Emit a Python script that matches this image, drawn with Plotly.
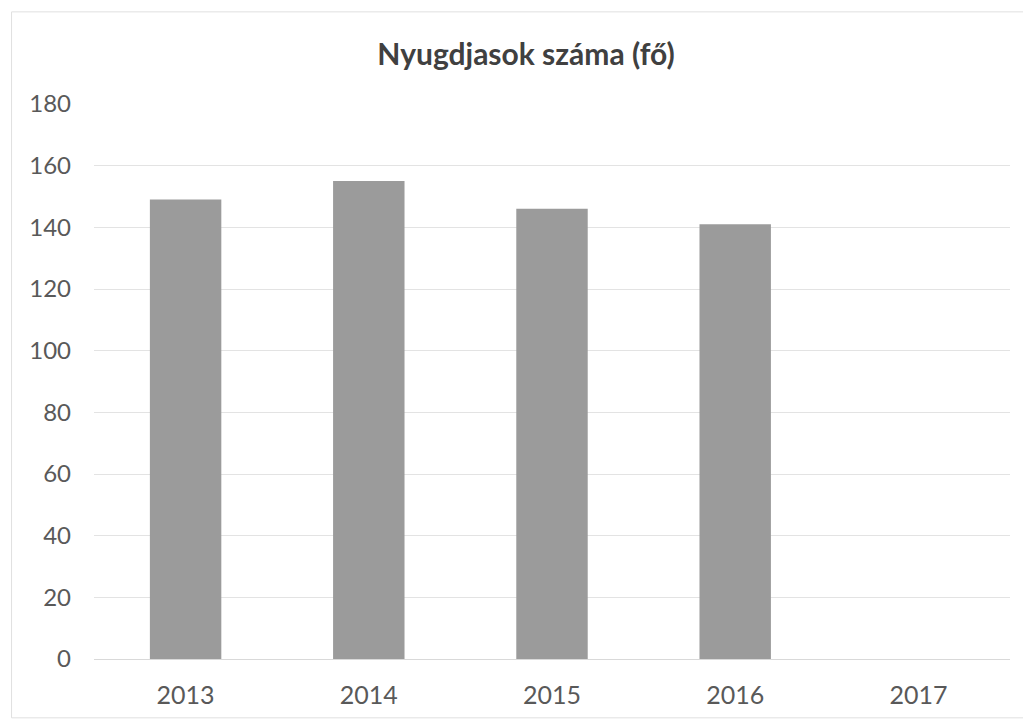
import plotly.graph_objects as go

years = ["2013", "2014", "2015", "2016", "2017"]
values = [149, 155, 146, 141, 0]
y_ticks = [0, 20, 40, 60, 80, 100, 120, 140, 160, 180]
title_text = "Nyugdjasok száma (fő)"

fig = go.Figure()
fig.add_trace(go.Bar(x=years, y=values, marker=dict(color="#9b9b9b", line=dict(width=0)),
                     width=0.39))

fig.update_layout(
    width=1031, height=721,
    paper_bgcolor="white", plot_bgcolor="white",
    margin=dict(l=86, r=29, t=96, b=70, autoexpand=False),
    showlegend=False,
    title=dict(text="<b>" + title_text + "</b>", x=518 / 1031, xref="container", xanchor="center",
               y=1 - 46 / 721, yref="container", yanchor="middle",
               font=dict(family="Lato, Open Sans, sans-serif", size=30, color="#404040")),
    font=dict(family="Lato, Open Sans, sans-serif", color="#595959", size=24),
)
fig.update_xaxes(showgrid=False, showline=True, linecolor="#d9d9d9", linewidth=1,
                 ticks="", ticklabelstandoff=14, tickfont=dict(size=25, color="#595959"))
fig.update_yaxes(range=[0, 180], tickvals=y_ticks, showgrid=True, gridcolor="#e3e3e3",
                 gridwidth=1, zeroline=False, showline=False, ticks="",
                 ticklabelstandoff=22, tickfont=dict(size=24, color="#595959"))

fig.add_shape(type="rect", xref="paper", yref="paper", x0=-0.090, x1=1.016, y0=-0.106, y1=1.166,
              line=dict(color="#e0e0e0", width=1))

fig.write_html("out.html")
